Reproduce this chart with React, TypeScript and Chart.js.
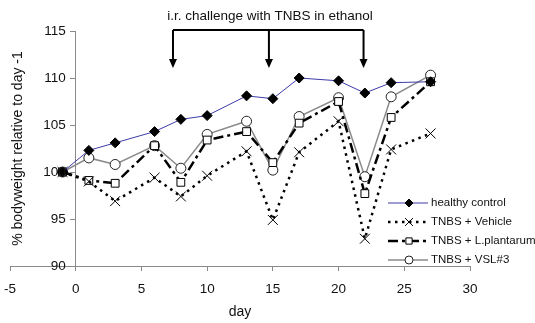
import React, { useEffect, useRef } from "react";
import { Chart, registerables } from "chart.js";
import { drawPoint } from "chart.js/helpers";

Chart.register(...registerables);

const days = [-1, 1, 3, 6, 8, 10, 13, 15, 17, 20, 22, 24, 27];
const healthy = [100, 102.3, 103.1, 104.3, 105.6, 106.0, 108.1, 107.8, 110.0, 109.7, 108.4, 109.5, 109.6];
const vehicle = [100, 99.0, 96.9, 99.4, 97.4, 99.6, 102.2, 94.9, 102.1, 105.4, 92.9, 102.4, 104.1];
const plantarum = [100, 99.1, 98.8, 102.8, 98.9, 103.4, 104.3, 101.0, 105.2, 107.5, 97.7, 105.8, 109.6];
const vsl = [100, 101.5, 100.8, 102.8, 100.4, 104.0, 105.4, 100.2, 105.9, 107.9, 99.5, 108.0, 110.3];
const seriesNames = ["healthy control", "TNBS + Vehicle", "TNBS + L.plantarum", "TNBS + VSL#3"];
const challengeDays = [7.4, 14.7, 21.9];
const titleText = "i.r. challenge with TNBS in ethanol";
const xTitle = "day";
const yTitle = "% bodyweight relative to day -1";

const FONT = "'Liberation Sans', Arial, sans-serif";

const styles = [
  { color: "#3b3ba6", width: 1, dash: [] as number[], pointStyle: "rectRot", radius: 5, fill: "#000", pborder: "#000", pbw: 1 },
  { color: "#000", width: 2.5, dash: [2.5, 4.5], pointStyle: "crossRot", radius: 7, fill: "#000", pborder: "#000", pbw: 1 },
  { color: "#000", width: 2.5, dash: [10, 4, 3, 4], pointStyle: "rect", radius: 5.5, fill: "#fff", pborder: "#000", pbw: 1 },
  { color: "#8a8a8a", width: 1.5, dash: [] as number[], pointStyle: "circle", radius: 5, fill: "#fff", pborder: "#222", pbw: 1 },
];

const values = [healthy, vehicle, plantarum, vsl];

const overlay = {
  id: "overlay",
  afterDraw(chart: any) {
    const ctx = chart.ctx;
    const xs = chart.scales.x;
    const ys = chart.scales.y;
    const area = chart.chartArea;
    ctx.save();
    // y tick labels
    const axisX = xs.getPixelForValue(0);
    ctx.fillStyle = "#111";
    ctx.font = `13.5px ${FONT}`;
    ctx.textAlign = "right";
    ctx.textBaseline = "middle";
    ys.ticks.forEach((t: any) => {
      ctx.fillText(String(t.value), axisX - 10, ys.getPixelForValue(t.value));
    });
    // title
    ctx.textAlign = "center";
    ctx.textBaseline = "alphabetic";
    ctx.fillText(titleText, 270, 20);
    // bracket + arrows
    ctx.strokeStyle = "#000";
    ctx.fillStyle = "#000";
    ctx.lineWidth = 2;
    const px = challengeDays.map((d) => xs.getPixelForValue(d));
    ctx.beginPath();
    ctx.moveTo(px[0], 30);
    ctx.lineTo(px[px.length - 1], 30);
    ctx.stroke();
    px.forEach((p) => {
      ctx.beginPath();
      ctx.moveTo(p, 30);
      ctx.lineTo(p, 60);
      ctx.stroke();
      ctx.beginPath();
      ctx.moveTo(p - 4, 59);
      ctx.lineTo(p + 4, 59);
      ctx.lineTo(p, 68);
      ctx.closePath();
      ctx.fill();
    });
    // axis titles
    ctx.fillStyle = "#111";
    ctx.font = `14px ${FONT}`;
    ctx.textAlign = "center";
    ctx.textBaseline = "middle";
    ctx.fillText(xTitle, (area.left + area.right) / 2, 312);
    ctx.save();
    ctx.translate(18, (area.top + area.bottom) / 2);
    ctx.rotate(-Math.PI / 2);
    ctx.fillText(yTitle, 0, 0);
    ctx.restore();
    // legend
    seriesNames.forEach((name, i) => {
      const st = styles[i];
      const y = 203 + i * 19;
      ctx.save();
      ctx.strokeStyle = st.color;
      ctx.lineWidth = st.width;
      ctx.setLineDash(st.dash);
      ctx.beginPath();
      ctx.moveTo(388, y);
      ctx.lineTo(428, y);
      ctx.stroke();
      ctx.setLineDash([]);
      ctx.fillStyle = st.fill;
      ctx.strokeStyle = st.pborder;
      ctx.lineWidth = st.pbw;
      drawPoint(ctx, { pointStyle: st.pointStyle, radius: st.radius * 0.8, rotation: 0, borderWidth: st.pbw } as any, 409, y);
      ctx.restore();
      ctx.fillStyle = "#111";
      ctx.font = `11.5px ${FONT}`;
      ctx.textAlign = "left";
      ctx.textBaseline = "middle";
      ctx.fillText(name, 431, y);
    });
    ctx.restore();
  },
};

export default function App() {
  const ref = useRef<HTMLCanvasElement>(null);
  useEffect(() => {
    if (!ref.current) return;
    const chart = new Chart(ref.current, {
      type: "line",
      data: {
        datasets: values.map((vals, i) => ({
          label: seriesNames[i],
          data: days.map((d, j) => ({ x: d, y: vals[j] })),
          borderColor: styles[i].color,
          borderWidth: styles[i].width,
          borderDash: styles[i].dash,
          pointStyle: styles[i].pointStyle as any,
          pointRadius: styles[i].radius,
          pointBackgroundColor: styles[i].fill,
          pointBorderColor: styles[i].pborder,
          pointBorderWidth: styles[i].pbw,
          tension: 0,
          fill: false,
          order: i === 0 ? -1 : i,
          clip: false as any,
        })),
      },
      options: {
        responsive: false,
        animation: false,
        events: [],
        layout: { padding: { left: 10, right: 65, top: 31, bottom: 27 } },
        plugins: { legend: { display: false }, tooltip: { enabled: false }, title: { display: false } },
        scales: {
          x: {
            type: "linear",
            min: -5,
            max: 30,
            afterFit: (s: any) => { s.height = 30; s.paddingLeft = 0; s.paddingRight = 0; },
            ticks: { stepSize: 5, color: "#111", font: { size: 13.5, family: FONT }, padding: 10, maxRotation: 0 },
            grid: { drawOnChartArea: false, tickLength: 5, color: "#8a8a8a", lineWidth: 1 },
            border: { color: "#8a8a8a", width: 1 },
          },
          y: {
            type: "linear",
            position: { x: 0 } as any,
            min: 90,
            max: 115,
            afterFit: (s: any) => { s.paddingTop = 0; s.paddingBottom = 0; },
            ticks: { stepSize: 5, display: false },
            grid: { drawOnChartArea: false, tickLength: 5, color: "#8a8a8a", lineWidth: 1 },
            border: { color: "#8a8a8a", width: 1 },
          },
        },
      },
      plugins: [overlay],
    });
    return () => chart.destroy();
  }, []);
  return (
    <div style={{ position: "fixed", left: 0, top: 0, width: 535, height: 323, background: "#fff" }}>
      <canvas ref={ref} width={535} height={323} />
    </div>
  );
}
